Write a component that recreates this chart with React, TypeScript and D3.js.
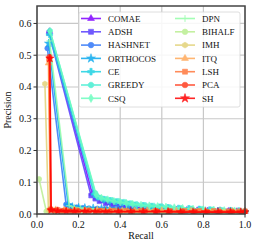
import { useEffect, useRef } from "react";
import * as d3 from "d3";

const METHODS = ["COMAE", "ADSH", "HASHNET", "ORTHOCOS", "CE", "GREEDY", "CSQ", "DPN", "BIHALF", "IMH", "ITQ", "LSH", "PCA", "SH"];
const MARKERS = ["tri", "square", "circle", "star", "plusfill", "octagon", "diamond", "plus", "circle", "hexagon", "tri", "square", "circle", "star"];

const X_TICKS = [0, 0.2, 0.4, 0.6, 0.8, 1.0];
const Y_TICKS = [0, 0.1, 0.2, 0.3, 0.4, 0.5, 0.6];

// recall / precision
const RECALL: number[][] = [
  [0.06, 0.265, 0.285, 0.31, 0.34, 0.37, 0.4, 0.43, 0.46, 0.5, 0.54, 0.58, 0.62, 0.67, 0.72, 0.77, 0.82, 0.87, 0.92, 0.96, 1.0],
  [0.058, 0.26, 0.28, 0.3, 0.33, 0.36, 0.39, 0.42, 0.45, 0.49, 0.53, 0.57, 0.61, 0.66, 0.71, 0.76, 0.81, 0.86, 0.91, 0.95, 1.0],
  [0.05, 0.14, 0.16, 0.19, 0.22, 0.25, 0.29, 0.33, 0.37, 0.41, 0.45, 0.5, 0.55, 0.6, 0.66, 0.72, 0.78, 0.84, 0.9, 0.95, 1.0],
  [0.056, 0.15, 0.17, 0.2, 0.23, 0.27, 0.31, 0.35, 0.39, 0.43, 0.48, 0.53, 0.58, 0.63, 0.69, 0.75, 0.81, 0.87, 0.93, 1.0],
  [0.06, 0.275, 0.29, 0.32, 0.35, 0.38, 0.41, 0.44, 0.47, 0.51, 0.55, 0.59, 0.63, 0.68, 0.73, 0.78, 0.83, 0.88, 0.93, 0.97, 1.0],
  [0.062, 0.28, 0.3, 0.33, 0.36, 0.39, 0.42, 0.45, 0.48, 0.52, 0.56, 0.6, 0.64, 0.69, 0.74, 0.79, 0.84, 0.89, 0.94, 0.98, 1.0],
  [0.063, 0.285, 0.31, 0.34, 0.37, 0.4, 0.43, 0.46, 0.5, 0.54, 0.58, 0.62, 0.66, 0.7, 0.75, 0.8, 0.85, 0.9, 0.95, 1.0],
  [0.06, 0.155, 0.18, 0.21, 0.25, 0.29, 0.33, 0.38, 0.43, 0.48, 0.54, 0.6, 0.66, 0.72, 0.78, 0.84, 0.9, 0.95, 1.0],
  [0.01, 0.045, 0.08, 0.12, 0.17, 0.22, 0.28, 0.34, 0.4, 0.47, 0.54, 0.61, 0.68, 0.75, 0.82, 0.89, 0.95, 1.0],
  [0.038, 0.055, 0.09, 0.13, 0.18, 0.24, 0.3, 0.36, 0.42, 0.49, 0.56, 0.63, 0.7, 0.77, 0.84, 0.9, 0.95, 1.0],
  [0.055, 0.064, 0.09, 0.13, 0.18, 0.23, 0.29, 0.35, 0.41, 0.47, 0.53, 0.6, 0.67, 0.74, 0.81, 0.88, 0.94, 1.0],
  [0.057, 0.066, 0.1, 0.14, 0.19, 0.25, 0.31, 0.37, 0.43, 0.5, 0.57, 0.64, 0.71, 0.78, 0.85, 0.92, 0.97, 1.0],
  [0.06, 0.067, 0.09, 0.12, 0.16, 0.2, 0.25, 0.3, 0.35, 0.4, 0.46, 0.52, 0.58, 0.64, 0.7, 0.76, 0.82, 0.88, 0.94, 1.0],
  [0.062, 0.068, 0.1, 0.14, 0.18, 0.23, 0.28, 0.33, 0.39, 0.45, 0.51, 0.57, 0.63, 0.69, 0.75, 0.81, 0.87, 0.93, 0.98, 1.0],
];

const PRECISION: number[][] = [
  [0.575, 0.065, 0.052, 0.042, 0.036, 0.032, 0.028, 0.024, 0.02, 0.018, 0.017, 0.015, 0.014, 0.013, 0.012, 0.011, 0.01, 0.009, 0.009, 0.008, 0.007],
  [0.57, 0.058, 0.048, 0.04, 0.033, 0.028, 0.024, 0.02, 0.016, 0.015, 0.014, 0.013, 0.012, 0.011, 0.01, 0.009, 0.009, 0.008, 0.008, 0.007, 0.006],
  [0.522, 0.03, 0.024, 0.021, 0.019, 0.018, 0.017, 0.017, 0.016, 0.015, 0.014, 0.013, 0.012, 0.012, 0.011, 0.01, 0.009, 0.009, 0.008, 0.007, 0.006],
  [0.537, 0.028, 0.022, 0.02, 0.019, 0.018, 0.017, 0.016, 0.015, 0.014, 0.013, 0.012, 0.011, 0.011, 0.01, 0.009, 0.009, 0.008, 0.007, 0.006],
  [0.565, 0.062, 0.054, 0.046, 0.042, 0.038, 0.035, 0.031, 0.028, 0.026, 0.024, 0.022, 0.02, 0.018, 0.017, 0.015, 0.013, 0.012, 0.011, 0.01, 0.008],
  [0.577, 0.066, 0.052, 0.047, 0.044, 0.041, 0.038, 0.034, 0.031, 0.028, 0.026, 0.024, 0.021, 0.019, 0.017, 0.016, 0.014, 0.012, 0.011, 0.009, 0.008],
  [0.575, 0.06, 0.05, 0.045, 0.04, 0.037, 0.034, 0.031, 0.028, 0.026, 0.024, 0.022, 0.02, 0.018, 0.016, 0.014, 0.013, 0.011, 0.01, 0.008],
  [0.545, 0.026, 0.021, 0.019, 0.017, 0.016, 0.015, 0.014, 0.013, 0.012, 0.011, 0.011, 0.01, 0.009, 0.009, 0.008, 0.008, 0.007, 0.006],
  [0.11, 0.008, 0.008, 0.008, 0.007, 0.007, 0.007, 0.007, 0.007, 0.006, 0.006, 0.006, 0.006, 0.006, 0.005, 0.005, 0.005, 0.005],
  [0.41, 0.012, 0.011, 0.011, 0.01, 0.01, 0.01, 0.009, 0.009, 0.009, 0.009, 0.008, 0.008, 0.008, 0.008, 0.007, 0.007, 0.007],
  [0.475, 0.016, 0.014, 0.013, 0.013, 0.012, 0.012, 0.012, 0.011, 0.011, 0.011, 0.011, 0.01, 0.01, 0.01, 0.01, 0.009, 0.009],
  [0.488, 0.015, 0.013, 0.012, 0.012, 0.012, 0.011, 0.011, 0.011, 0.011, 0.01, 0.01, 0.01, 0.01, 0.01, 0.009, 0.009, 0.009],
  [0.495, 0.014, 0.011, 0.01, 0.009, 0.009, 0.009, 0.009, 0.008, 0.008, 0.008, 0.008, 0.008, 0.008, 0.008, 0.008, 0.007, 0.007, 0.007, 0.007],
  [0.49, 0.012, 0.009, 0.008, 0.008, 0.008, 0.007, 0.007, 0.007, 0.007, 0.007, 0.007, 0.007, 0.006, 0.006, 0.006, 0.006, 0.006, 0.006, 0.006],
];

const W = 258;
const H = 248;
const FONT = "'Liberation Serif', 'Times New Roman', 'DejaVu Serif', serif";

function markerPath(kind: string, r: number): string {
  const k = kind;
  if (k === "tri") return d3.symbol(d3.symbolTriangle, r * r * 2.6)() ?? "";
  if (k === "square") return d3.symbol(d3.symbolSquare, r * r * 3.2)() ?? "";
  if (k === "circle") return d3.symbol(d3.symbolCircle, Math.PI * r * r)() ?? "";
  if (k === "star") return d3.symbol(d3.symbolStar, r * r * 3.2)() ?? "";
  if (k === "diamond") return d3.symbol(d3.symbolDiamond, r * r * 2.6)() ?? "";
  if (k === "plusfill") return d3.symbol(d3.symbolCross, r * r * 3.2)() ?? "";
  if (k === "octagon" || k === "hexagon") {
    const n = k === "octagon" ? 8 : 6;
    const pts = d3.range(n).map((i) => {
      const a = (Math.PI * 2 * i) / n + (k === "octagon" ? Math.PI / 8 : Math.PI / 2);
      return [Math.cos(a) * r * 1.05, Math.sin(a) * r * 1.05];
    });
    return "M" + pts.map((p) => p.join(",")).join("L") + "Z";
  }
  // thin plus
  return `M${-r * 1.2},0L${r * 1.2},0M0,${-r * 1.2}L0,${r * 1.2}`;
}

function Chart() {
  const ref = useRef<SVGSVGElement | null>(null);

  useEffect(() => {
    const svg = d3.select(ref.current);
    svg.selectAll("*").remove();

    const m = { t: 6, r: 13, b: 34, l: 37 };
    const w = W - m.l - m.r;
    const h = H - m.t - m.b;

    const color = (i: number) => {
      const t = i / (METHODS.length - 1);
      const r = Math.min(1, Math.abs(2 * t - 0.5));
      const g = Math.sin(Math.PI * t);
      const b = Math.cos((Math.PI / 2) * t);
      return d3.rgb(r * 255, g * 255, b * 255).formatHex();
    };

    const x = d3.scaleLinear().domain([0, 1]).range([0, w]);
    const y = d3.scaleLinear().domain([0, 0.655]).range([h, 0]);

    const g = svg.append("g").attr("transform", `translate(${m.l},${m.t})`);

    // grid
    X_TICKS.forEach((t) => {
      g.append("line").attr("x1", x(t)).attr("x2", x(t)).attr("y1", 0).attr("y2", h)
        .attr("stroke", "#c8c8c8").attr("stroke-width", 1.2);
    });
    Y_TICKS.forEach((t) => {
      g.append("line").attr("x1", 0).attr("x2", w).attr("y1", y(t)).attr("y2", y(t))
        .attr("stroke", "#c8c8c8").attr("stroke-width", 1.2);
    });

    const clip = svg.append("defs").append("clipPath").attr("id", "plotclip");
    clip.append("rect").attr("x", -4).attr("y", -4).attr("width", w + 8).attr("height", h + 4);

    const plot = g.append("g").attr("clip-path", "url(#plotclip)");

    const line = d3.line<[number, number]>().x((d) => x(d[0])).y((d) => y(d[1]));

    METHODS.forEach((name, i) => {
      const pts: [number, number][] = RECALL[i].map((r, j) => [r, PRECISION[i][j]]);
      const c = color(i);
      const s = plot.append("g").attr("opacity", 0.85);
      s.append("path").datum(pts).attr("d", line).attr("fill", "none")
        .attr("stroke", c).attr("stroke-width", 1.6).attr("stroke-linejoin", "round");
      const mp = markerPath(MARKERS[i], 2.6);
      pts.forEach((p) => {
        s.append("path").attr("d", mp).attr("transform", `translate(${x(p[0])},${y(p[1])})`)
          .attr("fill", c).attr("stroke", c).attr("stroke-width", MARKERS[i] === "plus" ? 1 : 0.6);
      });
    });

    // frame
    g.append("rect").attr("x", 0).attr("y", 0).attr("width", w).attr("height", h)
      .attr("fill", "none").attr("stroke", "#444").attr("stroke-width", 1.5);

    const txt = (sel: d3.Selection<SVGTextElement, unknown, null, undefined>, size: number) =>
      sel.style("font-family", FONT).style("font-size", `${size}px`).attr("fill", "#111");

    // ticks
    X_TICKS.forEach((t) => {
      g.append("line").attr("x1", x(t)).attr("x2", x(t)).attr("y1", h).attr("y2", h + 3.5)
        .attr("stroke", "#333").attr("stroke-width", 1);
      txt(g.append("text").attr("x", x(t)).attr("y", h + 14).attr("text-anchor", "middle") as any, 10)
        .text(t.toFixed(1));
    });
    Y_TICKS.forEach((t) => {
      g.append("line").attr("x1", -3.5).attr("x2", 0).attr("y1", y(t)).attr("y2", y(t))
        .attr("stroke", "#333").attr("stroke-width", 1);
      txt(g.append("text").attr("x", -5.5).attr("y", y(t) + 3.5).attr("text-anchor", "end") as any, 10)
        .text(t.toFixed(1));
    });

    txt(svg.append("text").attr("x", m.l + w / 2).attr("y", 239).attr("text-anchor", "middle") as any, 10)
      .text("Recall");
    txt(svg.append("text").attr("transform", `translate(11,${m.t + h / 2}) rotate(-90)`)
      .attr("text-anchor", "middle") as any, 10).text("Precision");

    // legend
    const lg = svg.append("g").attr("transform", "translate(79,12)");
    lg.append("rect").attr("x", 0).attr("y", 0).attr("width", 161).attr("height", 95)
      .attr("rx", 2).attr("fill", "white").attr("fill-opacity", 0.85)
      .attr("stroke", "#d6d6d6").attr("stroke-width", 0.8);
    METHODS.forEach((name, i) => {
      const col = Math.floor(i / 7);
      const row = i % 7;
      const lx = col === 0 ? 2 : 96;
      const ly = 6.5 + row * 13.3;
      const c = color(i);
      const it = lg.append("g").attr("opacity", 0.85);
      it.append("line").attr("x1", lx).attr("x2", lx + 20).attr("y1", ly).attr("y2", ly)
        .attr("stroke", c).attr("stroke-width", 1.6);
      it.append("path").attr("d", markerPath(MARKERS[i], 2.8)).attr("transform", `translate(${lx + 10},${ly})`)
        .attr("fill", c).attr("stroke", c).attr("stroke-width", MARKERS[i] === "plus" ? 1 : 0.6);
      txt(lg.append("text").attr("x", lx + 27).attr("y", ly + 3.3) as any, 9).text(name);
    });
  }, []);

  return <svg ref={ref} width={W} height={H} style={{ position: "absolute", left: 0, top: 0 }} />;
}

export default function App() {
  return <Chart />;
}
